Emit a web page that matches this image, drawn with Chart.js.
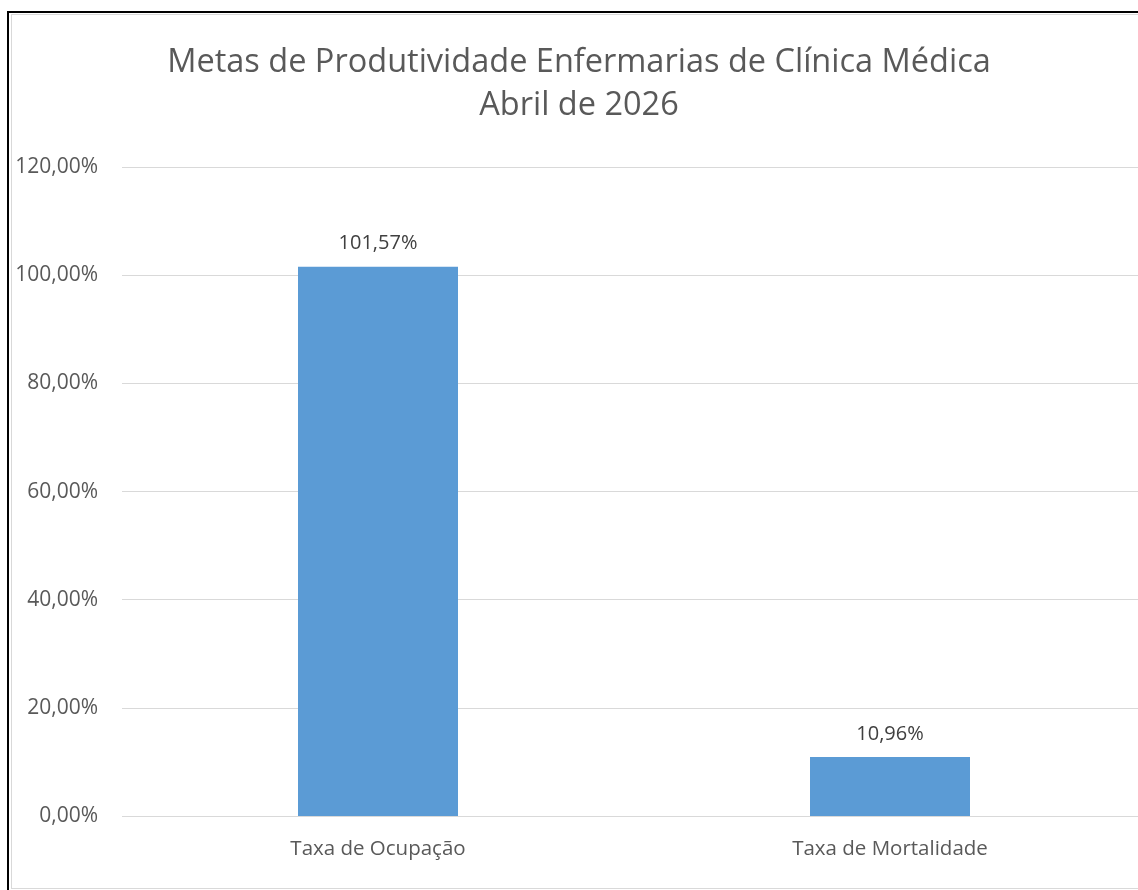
<!DOCTYPE html>
<html>
<head>
<meta charset="utf-8">
<script src="https://cdn.jsdelivr.net/npm/chart.js@4"></script>
<style>
  html, body { margin: 0; padding: 0; background: #fff; overflow: hidden; }
  body { width: 1138px; height: 890px; position: relative; }
  #frame { position: absolute; left: 7px; top: 11px; width: 1200px; height: 900px;
           border-left: 2px solid #000; border-top: 2px solid #000; }
  #box { position: absolute; left: 11px; top: 14px; width: 1200px; height: 873px;
         border: 1px solid #d9d9d9; }
  #wrap { position: absolute; left: 12px; top: 15px; width: 1138px; height: 873px; }
</style>
</head>
<body>
<div id="frame"></div>
<div id="box"></div>
<div id="wrap"><canvas id="chart"></canvas></div>
<script>
// dados do gráfico
const categorias = ["Taxa de Ocupação", "Taxa de Mortalidade"];
const valores = [101.57, 10.96];
const tituloLinhas = ["Metas de Produtividade Enfermarias de Clínica Médica", "Abril de 2026"];

const fonte = "'Open Sans', sans-serif";
const cinza = "#595959";

function fmtPct(v, casas) {
  return v.toFixed(casas).replace(".", ",") + "%";
}

// rótulos de valor acima das barras
const rotulosPlugin = {
  id: "rotulos",
  afterDatasetsDraw(chart) {
    const ctx = chart.ctx;
    const meta = chart.getDatasetMeta(0);
    ctx.save();
    ctx.font = "20px " + fonte;
    ctx.fillStyle = "#404040";
    ctx.textAlign = "center";
    ctx.textBaseline = "middle";
    meta.data.forEach((bar, i) => {
      ctx.fillText(fmtPct(valores[i], 2), bar.x, bar.y - 23);
    });
    ctx.restore();
  }
};

new Chart(document.getElementById("chart").getContext("2d"), {
  type: "bar",
  data: {
    labels: categorias,
    datasets: [{
      data: valores,
      backgroundColor: "#5b9bd5",
      borderWidth: 0,
      barPercentage: 0.3125,
      categoryPercentage: 1
    }]
  },
  options: {
    responsive: true,
    maintainAspectRatio: false,
    animation: false,
    layout: { padding: { left: 0, right: 4, top: 0, bottom: 7 } },
    plugins: {
      legend: { display: false },
      tooltip: { enabled: false },
      title: {
        display: true,
        text: tituloLinhas,
        color: cinza,
        font: { family: fonte, size: 32.5, weight: "normal", lineHeight: 1.32 },
        padding: { top: 26.5, bottom: 39.7 }
      }
    },
    scales: {
      x: {
        grid: { display: false, drawTicks: false },
        border: { display: true, color: "#d9d9d9" },
        ticks: { color: cinza, font: { family: fonte, size: 20.5 }, padding: 20 }
      },
      y: {
        min: 0,
        max: 120,
        afterFit: s => { s.width = 110; },
        grid: { color: "#d9d9d9", drawTicks: false },
        border: { display: false },
        ticks: {
          stepSize: 20,
          color: cinza,
          padding: 24,
          font: { family: fonte, size: 21 },
          callback: v => fmtPct(v, 2)
        }
      }
    }
  },
  plugins: [rotulosPlugin]
});
</script>
</body>
</html>
